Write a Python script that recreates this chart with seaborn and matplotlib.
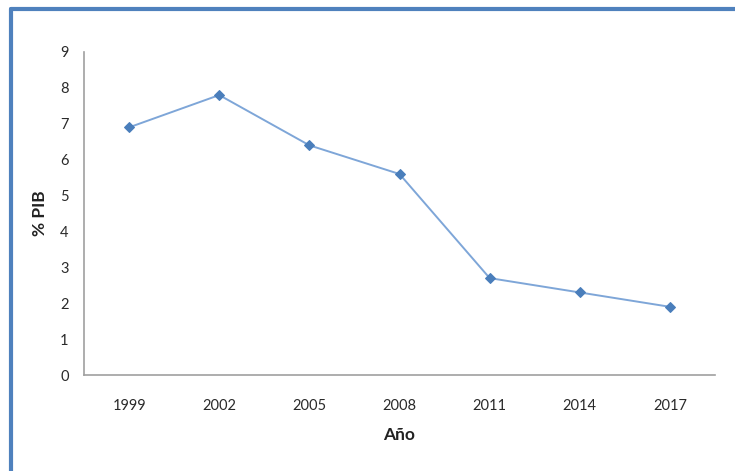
import matplotlib
matplotlib.use("Agg")
import matplotlib.pyplot as plt
import seaborn as sns
import pandas as pd
from matplotlib.lines import Line2D

# data
years = ["1999", "2002", "2005", "2008", "2011", "2014", "2017"]
pib = [6.9, 7.8, 6.4, 5.6, 2.7, 2.3, 1.9]

df = pd.DataFrame({"Año": years, "% PIB": pib})

sns.set_style("white")
plt.rcParams["font.family"] = ["Lato", "DejaVu Sans"]

fig = plt.figure(figsize=(7.35, 4.71), dpi=100)
ax = fig.add_axes([0.1143, 0.2038, 0.8585, 0.6858])

sns.lineplot(data=df, x="Año", y="% PIB", ax=ax, color="#7EA6D8", linewidth=1.4,
             marker="D", markersize=5.5, markerfacecolor="#4A7EBB",
             markeredgecolor="#4A7EBB")

ax.set_xlim(-0.5, len(years) - 0.5)
ax.set_ylim(0, 9)
ax.set_yticks(range(0, 10))

# Excel style: ticks between categories
ax.set_xticks(range(len(years)))
ax.set_xticklabels(years)
ax.set_xticks([i - 0.5 for i in range(len(years) + 1)], minor=True)
ax.tick_params(axis="x", which="major", length=0, pad=17, labelsize=10.5, labelcolor="#2a2a2a")
ax.tick_params(axis="x", which="minor", length=5, width=1, color="#A0A0A0", direction="out")
ax.tick_params(axis="y", length=5, width=1, color="#A0A0A0", direction="out", labelsize=10.5,
               labelcolor="#2a2a2a", pad=6)

for s in ["top", "right"]:
    ax.spines[s].set_visible(False)
for s in ["left", "bottom"]:
    ax.spines[s].set_color("#A0A0A0")
    ax.spines[s].set_linewidth(1.2)

ax.set_xlabel("Año", fontsize=12.5, fontweight="bold", labelpad=10, color="#222222")
ax.set_ylabel("% PIB", fontsize=12.5, fontweight="bold", labelpad=9, color="#222222")

# blue frame around the chart (top and left visible)
fig.add_artist(Line2D([0.0143, 1.0], [0.981, 0.981], transform=fig.transFigure,
                      color="#4F81BD", linewidth=3))
fig.add_artist(Line2D([0.0143, 0.0143], [0.0, 0.981], transform=fig.transFigure,
                      color="#4F81BD", linewidth=3))

fig.savefig("out.png", dpi=100)
